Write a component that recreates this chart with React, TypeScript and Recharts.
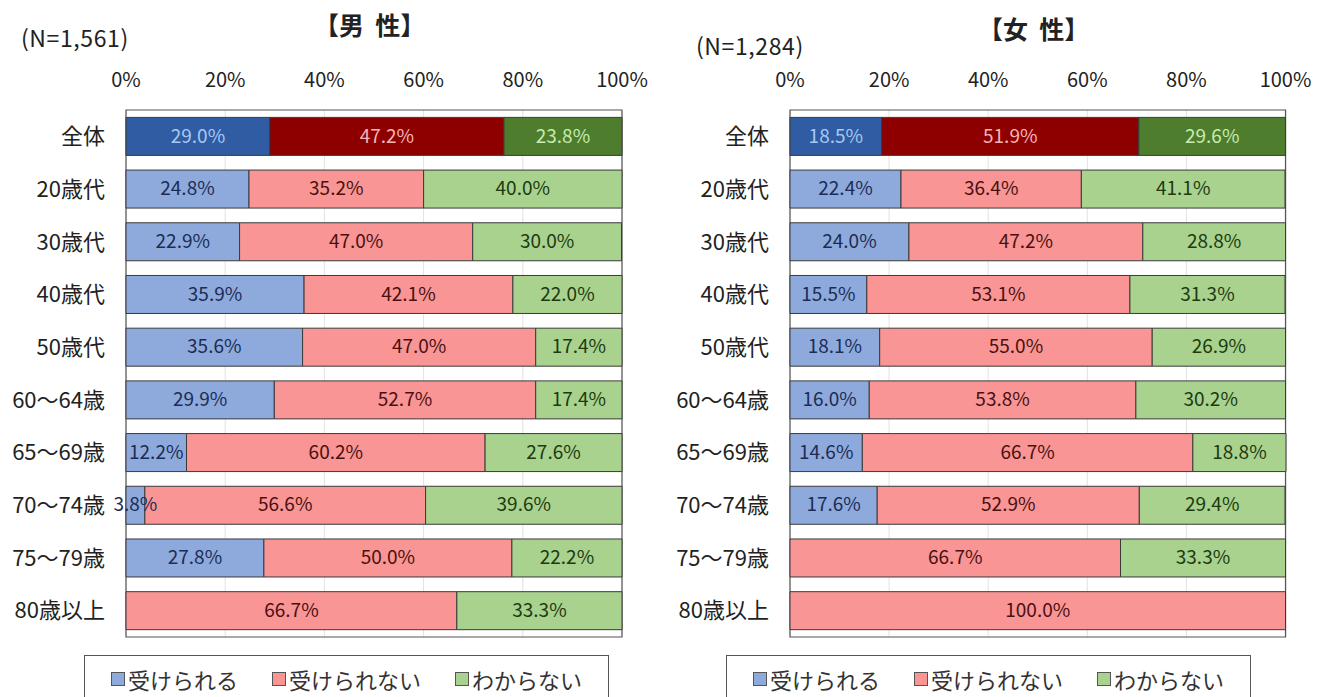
import { BarChart, Bar, XAxis, YAxis, CartesianGrid, LabelList, ReferenceArea, Cell } from 'recharts'

const categories = ['全体', '20歳代', '30歳代', '40歳代', '50歳代', '60～64歳', '65～69歳', '70～74歳', '75～79歳', '80歳以上']
const seriesNames = ['受けられる', '受けられない', 'わからない']
const xTicks = [0, 20, 40, 60, 80, 100]

const maleCan = [29.0, 24.8, 22.9, 35.9, 35.6, 29.9, 12.2, 3.8, 27.8, 0]
const maleCannot = [47.2, 35.2, 47.0, 42.1, 47.0, 52.7, 60.2, 56.6, 50.0, 66.7]
const maleUnknown = [23.8, 40.0, 30.0, 22.0, 17.4, 17.4, 27.6, 39.6, 22.2, 33.3]

const femaleCan = [18.5, 22.4, 24.0, 15.5, 18.1, 16.0, 14.6, 17.6, 0, 0]
const femaleCannot = [51.9, 36.4, 47.2, 53.1, 55.0, 53.8, 66.7, 52.9, 66.7, 100.0]
const femaleUnknown = [29.6, 41.1, 28.8, 31.3, 26.9, 30.2, 18.8, 29.4, 33.3, 0]

// 全体の行だけ濃い色
const darkFill = ['#2F5CA3', '#8E0000', '#4E7D2E']
const lightFill = ['#8EAADC', '#F99595', '#A8D28D']
const darkText = ['#A9C8F0', '#F4B5B5', '#C8EBB0']
const lightText = ['#1C2C55', '#4A1010', '#1E3A10']

const FONT = '"Noto Sans CJK JP", "Noto Sans", sans-serif'
const W = 660
const H = 697

function build(a: number[], b: number[], c: number[]) {
  return categories.map((name, i) => ({ name, s0: a[i], s1: b[i], s2: c[i] }))
}

const maleData = build(maleCan, maleCannot, maleUnknown)
const femaleData = build(femaleCan, femaleCannot, femaleUnknown)

function makeLabel(series: number) {
  return (props: any) => {
    const { x, y, width, height, value, index } = props
    if (!value) return null
    return (
      <text
        x={x + width / 2}
        y={y + height / 2 + 1}
        textAnchor="middle"
        dominantBaseline="middle"
        fontFamily={FONT}
        fontSize={19}
        fill={index === 0 ? darkText[series] : lightText[series]}
      >
        {value.toFixed(1)}%
      </text>
    )
  }
}

function StackChart({ data }: { data: any[] }) {
  return (
    <BarChart
      width={W}
      height={H}
      data={data}
      layout="vertical"
      margin={{ top: 80, right: 38, left: 2, bottom: 60 }}
      barCategoryGap="14%"
    >
      <CartesianGrid horizontal={false} stroke="#E2E2E2" />
      <XAxis
        type="number"
        orientation="top"
        domain={[0, 100]}
        ticks={xTicks}
        tickFormatter={(v: number) => `${v}%`}
        axisLine={false}
        tickLine={false}
        tickMargin={17}
        tick={{ fontSize: 20, fontFamily: FONT, fill: '#222' }}
      />
      <YAxis
        type="category"
        dataKey="name"
        width={124}
        axisLine={false}
        tickLine={false}
        tickMargin={15}
        tick={{ fontSize: 22, fontFamily: FONT, fill: '#222' }}
      />
      {[0, 1, 2].map(s => (
        <Bar key={s} dataKey={`s${s}`} name={seriesNames[s]} stackId="a" stroke="#3A3A3A" strokeWidth={1} isAnimationActive={false}>
          {data.map((_, i) => (
            <Cell key={i} fill={i === 0 ? darkFill[s] : lightFill[s]} />
          ))}
          <LabelList dataKey={`s${s}`} content={makeLabel(s)} />
        </Bar>
      ))}
      <ReferenceArea x1={0} x2={100} fill="none" stroke="#555" strokeWidth={1.2} ifOverflow="visible" />
    </BarChart>
  )
}

function LegendBox({ left }: { left: number }) {
  return (
    <div
      style={{
        position: 'absolute',
        left,
        top: 655,
        width: 525,
        height: 48,
        border: '1px solid #555',
        boxSizing: 'border-box',
        display: 'flex',
        justifyContent: 'center',
        alignItems: 'center',
        gap: 34,
        fontFamily: FONT,
        fontSize: 22,
        color: '#333',
        background: '#fff',
      }}
    >
      {seriesNames.map((n, i) => (
        <span key={n} style={{ display: 'flex', alignItems: 'center' }}>
          <span style={{ width: 12, height: 12, background: lightFill[i], border: '1px solid #555', marginRight: 3 }} />
          {n}
        </span>
      ))}
    </div>
  )
}

export default function App() {
  const abs = (l: number, t: number, size: number, bold = false) =>
    ({ position: 'absolute', left: l, top: t, fontFamily: FONT, fontSize: size, fontWeight: bold ? 700 : 400, color: '#222', whiteSpace: 'nowrap' }) as const
  return (
    <div style={{ position: 'absolute', left: 0, top: 0, width: 1329, height: 697, background: '#fff', overflow: 'hidden' }}>
      <div style={{ position: 'absolute', left: 0, top: 0 }}>
        <StackChart data={maleData} />
      </div>
      <div style={{ position: 'absolute', left: 664, top: 0 }}>
        <StackChart data={femaleData} />
      </div>
      <div style={{ ...abs(21, 20, 23), letterSpacing: 0.6 }}>(N=1,561)</div>
      <div style={abs(314, 6, 25, true)}>【男&nbsp;&nbsp;性】</div>
      <div style={{ ...abs(696, 28, 23), letterSpacing: 0.6 }}>(N=1,284)</div>
      <div style={abs(978, 10, 25, true)}>【女&nbsp;&nbsp;性】</div>
      <LegendBox left={84} />
      <LegendBox left={726} />
    </div>
  )
}
